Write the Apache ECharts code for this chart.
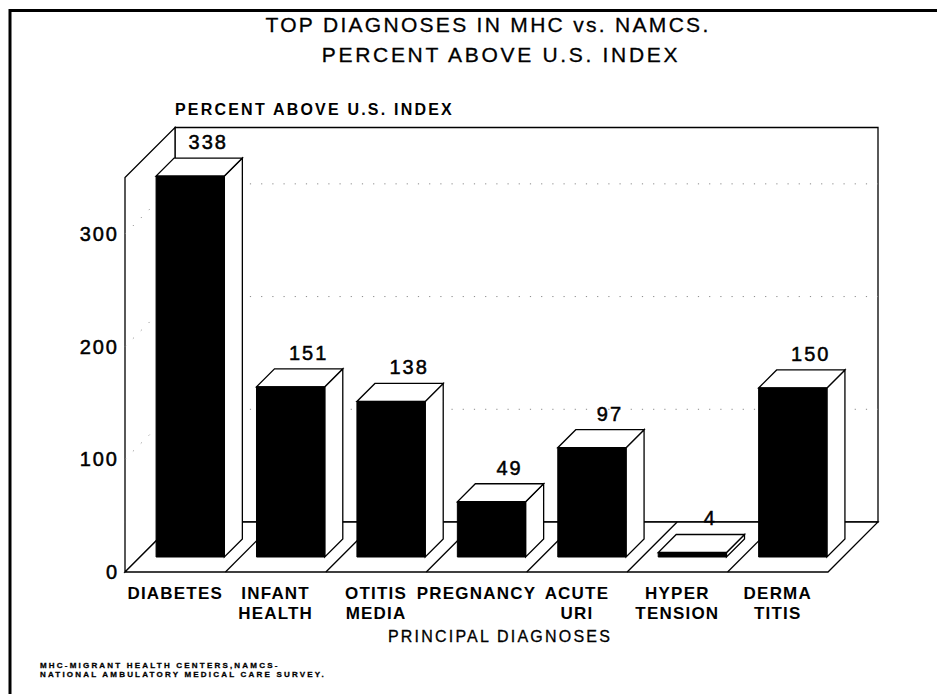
<!DOCTYPE html>
<html>
<head>
<meta charset="utf-8">
<script src="https://cdn.jsdelivr.net/npm/echarts@6/dist/echarts.min.js"></script>
<style>
  html, body { margin: 0; padding: 0; background: #fff; }
  #chart { width: 937px; height: 694px; }
</style>
</head>
<body>
<div id="chart"></div>
<script>
// ---- data ----
const categories = ['DIABETES', 'INFANT\nHEALTH', 'OTITIS\nMEDIA', 'PREGNANCY', 'ACUTE\nURI', 'HYPER\nTENSION', 'DERMA\nTITIS'];
const percentAbove = [338, 151, 138, 49, 97, 4, 150];
const gridLevels = [100, 200, 300];
const axisMax = 350;

// ---- look ----
const FONT = '"Liberation Sans", Arial, Helvetica, sans-serif';
const WALL_DEPTH = 50;   // depth of the room (px, drawn up and to the right)
const BAR_OFFSET = 15;   // distance of bar front face behind the floor's front edge
const BAR_DEPTH = 18;    // depth of each bar block
const BAR_RATIO = 0.68;  // bar width as share of category band
const EDGE = { stroke: '#000', lineWidth: 1.3 };
const INK = { textBorderColor: '#000', textBorderWidth: 0.5 };        // slightly heavier lettering
const INK_LIGHT = { textBorderColor: '#000', textBorderWidth: 0.3 };

// letter spacing (px) keyed by font size, with a few per-line overrides
const TRACKING = { 21: 2.3, 20: 2, 17: 1.2, 16: 2.2, 8: 2.2 };
const TRACKING_LINE = { 'PERCENT ABOVE U.S. INDEX|21': 2.7 };

const dom = document.getElementById('chart');
const chart = echarts.init(dom, null, { renderer: 'svg' });

// room: left wall, back wall, floor, dotted level lines and floor dividers
function renderRoom(params, api) {
  const cs = params.coordSys;
  const D = WALL_DEPTH;
  const x0 = cs.x, x1 = cs.x + cs.width;
  const yb = api.coord([0, 0])[1];
  const yt = api.coord([0, axisMax])[1];
  const band = api.size([1, 0])[0];
  const face = Object.assign({ fill: '#fff' }, EDGE);
  const children = [
    { type: 'polygon', shape: { points: [[x0 + D, yt - D], [x1 + D, yt - D], [x1 + D, yb - D], [x0 + D, yb - D]] }, style: face },
    { type: 'polygon', shape: { points: [[x0, yb], [x0, yt], [x0 + D, yt - D], [x0 + D, yb - D]] }, style: face },
    { type: 'polygon', shape: { points: [[x0, yb], [x1, yb], [x1 + D, yb - D], [x0 + D, yb - D]] }, style: face }
  ];
  gridLevels.forEach(function (v) {
    const y = api.coord([0, v])[1];
    children.push({
      type: 'polyline',
      shape: { points: [[x0, y], [x0 + D, y - D], [x1 + D, y - D]] },
      style: { stroke: '#8a8a8a', lineWidth: 1, lineDash: [1.2, 10], fill: null }
    });
  });
  for (let k = 1; k < categories.length; k++) {
    const x = x0 + k * band;
    children.push({ type: 'line', shape: { x1: x, y1: yb, x2: x + D, y2: yb - D }, style: EDGE });
  }
  return { type: 'group', children: children };
}

// one block per category: black front, white top and side, value on top
function renderBar(params, api) {
  const i = api.value(0), v = api.value(1);
  const base = api.coord([i, 0]);
  const top = api.coord([i, v]);
  const half = api.size([1, 0])[0] * BAR_RATIO / 2;
  const o = BAR_OFFSET, d = BAR_DEPTH;
  const xl = base[0] - half + o, xr = base[0] + half + o;
  const yb = base[1] - o, yt = top[1] - o;
  const face = Object.assign({ fill: '#fff' }, EDGE);
  return {
    type: 'group',
    children: [
      { type: 'polygon', shape: { points: [[xr, yb], [xr, yt], [xr + d, yt - d], [xr + d, yb - d]] }, style: face },
      { type: 'polygon', shape: { points: [[xl, yt], [xr, yt], [xr + d, yt - d], [xl + d, yt - d]] }, style: face },
      { type: 'rect', shape: { x: xl, y: yt, width: xr - xl, height: yb - yt }, style: { fill: '#000', stroke: '#000', lineWidth: 1 } },
      {
        type: 'text', x: (xl + xr) / 2 + d, y: yt - d - 16,
        style: { text: String(v), fontSize: 20, fontFamily: FONT, fill: '#000', stroke: '#000', lineWidth: 0.5,
                 align: 'center', verticalAlign: 'middle' }
      }
    ]
  };
}

const option = {
  animation: false,
  backgroundColor: '#fff',
  textStyle: { fontFamily: FONT, color: '#000' },
  title: [
    { text: 'TOP DIAGNOSES IN MHC vs. NAMCS.', left: 488, top: 14, textAlign: 'center', padding: 0,
      textStyle: Object.assign({ fontSize: 21, fontWeight: 'normal', color: '#000' }, INK_LIGHT) },
    { text: 'PERCENT ABOVE U.S. INDEX', left: 501, top: 44, textAlign: 'center', padding: 0,
      textStyle: Object.assign({ fontSize: 21, fontWeight: 'normal', color: '#000' }, INK_LIGHT) },
    { text: 'PERCENT ABOVE U.S. INDEX', left: 175, top: 101, padding: 0,
      textStyle: { fontSize: 16, fontWeight: 'bold', color: '#000' } },
    { text: 'MHC-MIGRANT HEALTH CENTERS,NAMCS-\nNATIONAL AMBULATORY MEDICAL CARE SURVEY.', left: 40, top: 661, padding: 0,
      textStyle: Object.assign({ fontSize: 8, fontWeight: 'bold', lineHeight: 9, color: '#000' }, INK_LIGHT) }
  ],
  grid: { left: 125, right: 109, top: 177.5, bottom: 122 },
  xAxis: {
    type: 'category',
    data: categories,
    axisLine: { show: false },
    axisTick: { show: false },
    axisLabel: { interval: 0, margin: 11, fontSize: 17, fontWeight: 'bold', lineHeight: 20, color: '#000' },
    name: 'PRINCIPAL DIAGNOSES',
    nameLocation: 'middle',
    nameGap: 54,
    nameTextStyle: Object.assign({ fontSize: 16, color: '#000', padding: [0, 0, 0, 47] }, INK_LIGHT)
  },
  yAxis: {
    type: 'value',
    min: 0,
    max: axisMax,
    interval: 100,
    axisLine: { show: false },
    axisTick: { show: false },
    splitLine: { show: false },
    axisLabel: Object.assign({ showMaxLabel: false, margin: 6, fontSize: 20, color: '#000' }, INK)
  },
  series: [
    { type: 'custom', renderItem: renderRoom, data: [[0, 0]], encode: { x: 0, y: 1 }, z: 1, silent: true },
    { type: 'custom', renderItem: renderBar, data: percentAbove.map(function (v, i) { return [i, v]; }),
      encode: { x: 0, y: 1 }, z: 2, silent: true }
  ],
  graphic: [
    { type: 'polyline', shape: { points: [[10, 694], [10, 10.5], [937, 10.5]] },
      style: { stroke: '#000', lineWidth: 3, fill: null }, z: 10 }
  ]
};

// widen the tracking of the printed lettering
function applyTracking() {
  dom.querySelectorAll('text').forEach(function (t) {
    const fs = Math.round(parseFloat(getComputedStyle(t).fontSize));
    const key = t.textContent + '|' + fs;
    const ls = TRACKING_LINE[key] != null ? TRACKING_LINE[key] : TRACKING[fs];
    if (ls != null) t.setAttribute('letter-spacing', ls);
  });
}

chart.on('finished', applyTracking);
chart.setOption(option);
applyTracking();
</script>
</body>
</html>
